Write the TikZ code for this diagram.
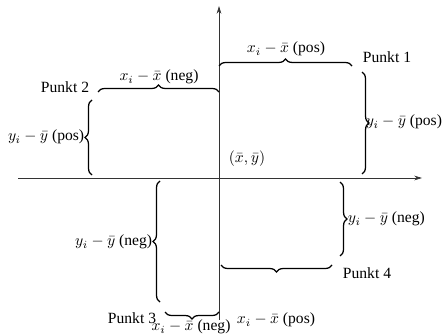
\documentclass[tikz,border=0pt]{standalone}
\usepackage{fontspec}
\setmainfont{Liberation Serif}
\usetikzlibrary{decorations.pathreplacing,arrows.meta}
\begin{document}
\begin{tikzpicture}[x=0.641pt,y=-0.641pt,
  axis/.style={line width=0.5pt,draw=black!80,-{Stealth[length=5pt,width=3pt]}},
  brc/.style={line width=0.8pt,decorate,decoration={brace,amplitude=4.5pt}},
  lbl/.style={inner sep=1pt,font=\fontsize{10pt}{12pt}\selectfont}]
\useasboundingbox (0,0) rectangle (443,335);
% axes
\coordinate (xs) at (18,178);
\coordinate (xe) at (422,178);
\coordinate (ys) at (219,320);
\coordinate (ye) at (219,6);
\draw[axis] (xs) -- (xe);
\draw[axis] (ys) -- (ye);
% Punkt 1
\coordinate (a1) at (219,66); \coordinate (a2) at (352,66);
\draw[brc] (a1) -- (a2);
\coordinate (b1) at (362,72); \coordinate (b2) at (362,174);
\draw[brc] (b1) -- (b2);
\node[lbl] (l1x) at (286,49) {$x_i-\bar{x}$ (pos)};
\node[lbl,anchor=west] (l1y) at (364,122) {$y_i-\bar{y}$ (pos)};
\node[lbl] (p1) at (387,57) {Punkt 1};
% Punkt 2
\coordinate (c1) at (98,92); \coordinate (c2) at (219,92);
\draw[brc] (c1) -- (c2);
\coordinate (d1) at (92,175); \coordinate (d2) at (92,100);
\draw[brc] (d1) -- (d2);
\node[lbl] (l2x) at (159,77) {$x_i-\bar{x}$ (neg)};
\node[lbl,anchor=east] (l2y) at (86,137) {$y_i-\bar{y}$ (pos)};
\node[lbl] (p2) at (65,87) {Punkt 2};
% mean
\node[lbl] (m) at (247,159) {$(\bar{x},\bar{y})$};
% Punkt 3
\coordinate (e1) at (160,302); \coordinate (e2) at (160,181);
\draw[brc] (e1) -- (e2);
\coordinate (f1) at (219,312); \coordinate (f2) at (165,312);
\draw[brc] (f1) -- (f2);
\node[lbl,anchor=east] (l3y) at (154,242) {$y_i-\bar{y}$ (neg)};
\node[lbl] (l3x) at (191,327) {$x_i-\bar{x}$ (neg)};
\node[lbl] (p3) at (132,318) {Punkt 3};
% Punkt 4
\coordinate (g1) at (340,182); \coordinate (g2) at (340,256);
\draw[brc] (g1) -- (g2);
\coordinate (h1) at (332,265); \coordinate (h2) at (221,265);
\draw[brc] (h1) -- (h2);
\node[lbl,anchor=west] (l4y) at (346,219) {$y_i-\bar{y}$ (neg)};
\node[lbl] (l4x) at (276,320) {$x_i-\bar{x}$ (pos)};
\node[lbl] (p4) at (367,273) {Punkt 4};
\end{tikzpicture}
\end{document}
